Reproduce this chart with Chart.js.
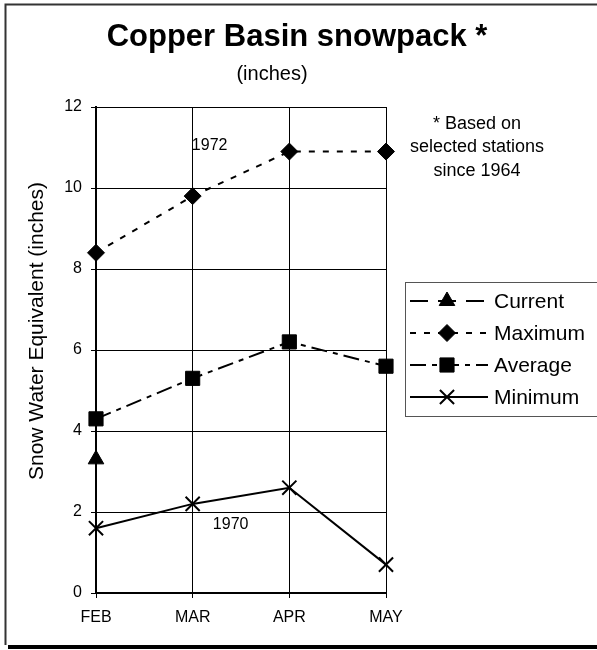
<!DOCTYPE html>
<html>
<head>
<meta charset="utf-8">
<title>Copper Basin snowpack</title>
<script src="https://cdn.jsdelivr.net/npm/chart.js@4/dist/chart.umd.min.js"></script>
<style>
  html, body { margin: 0; padding: 0; background: #fff; }
  #wrap { width: 597px; height: 650px; }
</style>
</head>
<body>
<div id="wrap"><canvas id="snow-chart"></canvas></div>
<script>
// Chart data
const months = ['FEB', 'MAR', 'APR', 'MAY'];
const currentVals = [3.3, null, null, null];
const maximumVals = [8.4, 9.8, 10.9, 10.9];
const averageVals = [4.3, 5.3, 6.2, 5.6];
const minimumVals = [1.6, 2.2, 2.6, 0.7];
const yMin = 0;
const yMax = 12;
const yStep = 2;

// Text
const titleText = 'Copper Basin snowpack *';
const subtitleText = '(inches)';
const yAxisText = 'Snow Water Equivalent (inches)';
const noteLines = ['* Based on', 'selected stations', 'since 1964'];
const maxYearText = '1972';
const minYearText = '1970';

const FONT = '"Liberation Sans", Arial, sans-serif';

// Frame, titles, notes
const textPlugin = {
  id: 'textPlugin',
  beforeDraw(chart) {
    const ctx = chart.ctx;
    ctx.save();
    ctx.fillStyle = '#fff';
    ctx.fillRect(0, 0, chart.width, chart.height);
    // frame with shadow
    ctx.fillStyle = '#000';
    ctx.fillRect(8, 645, chart.width - 8, 4);
    ctx.strokeStyle = '#333';
    ctx.lineWidth = 2;
    ctx.beginPath();
    ctx.moveTo(chart.width, 4.5);
    ctx.lineTo(5.5, 4.5);
    ctx.lineTo(5.5, 645);
    ctx.stroke();
    ctx.restore();
  },
  afterDraw(chart) {
    const ctx = chart.ctx;
    const x = chart.scales.x;
    const y = chart.scales.y;
    ctx.save();
    ctx.fillStyle = '#000';
    ctx.textAlign = 'center';
    ctx.textBaseline = 'middle';

    ctx.font = 'bold 31px ' + FONT;
    ctx.fillText(titleText, 297, 37);
    ctx.font = '20px ' + FONT;
    ctx.fillText(subtitleText, 272, 74);

    // y axis title
    ctx.save();
    ctx.translate(37, 331);
    ctx.rotate(-Math.PI / 2);
    ctx.font = '21px ' + FONT;
    ctx.fillText(yAxisText, 0, 0);
    ctx.restore();

    // note on the right
    ctx.font = '18px ' + FONT;
    noteLines.forEach((line, i) => {
      ctx.fillText(line, 477, 124 + i * 23.5);
    });

    // record years
    ctx.font = '16px ' + FONT;
    ctx.fillText(maxYearText, x.getPixelForValue(1) + 17, y.getPixelForValue(11.05));
    ctx.fillText(minYearText, x.getPixelForValue(1) + 38, y.getPixelForValue(1.68));
    ctx.restore();
  }
};

// Legend box drawn with each dataset's own line and marker style
const legendPlugin = {
  id: 'legendPlugin',
  afterDraw(chart) {
    const ctx = chart.ctx;
    ctx.save();
    ctx.strokeStyle = '#555';
    ctx.lineWidth = 1;
    ctx.strokeRect(405.5, 282.5, 200, 134);

    chart.data.datasets.forEach((ds, i) => {
      const yPos = 301 + i * 32;
      ctx.strokeStyle = '#000';
      ctx.lineWidth = ds.borderWidth;
      ctx.setLineDash(ds.borderDash || []);
      ctx.beginPath();
      ctx.moveTo(410, yPos);
      ctx.lineTo(488, yPos);
      ctx.stroke();
      ctx.setLineDash([]);

      ctx.fillStyle = '#000';
      ctx.lineWidth = ds.pointBorderWidth;
      Chart.helpers.drawPoint(ctx, {
        pointStyle: ds.pointStyle,
        radius: ds.pointRadius,
        rotation: 0,
        borderWidth: ds.pointBorderWidth
      }, 447, yPos);

      ctx.font = '21px ' + FONT;
      ctx.textAlign = 'left';
      ctx.textBaseline = 'middle';
      ctx.fillText(ds.label, 494, yPos + 1);
    });
    ctx.restore();
  }
};

function makeSeries(label, data, dash, style, radius, pointBorder) {
  return {
    label: label,
    data: data,
    borderColor: '#000',
    backgroundColor: '#000',
    borderWidth: 2,
    borderDash: dash,
    pointStyle: style,
    pointRadius: radius,
    pointHoverRadius: radius,
    pointBorderWidth: pointBorder,
    pointBackgroundColor: '#000',
    pointBorderColor: '#000',
    tension: 0,
    clip: false
  };
}

const ctx = document.getElementById('snow-chart').getContext('2d');

const snowChart = new Chart(ctx, {
  type: 'line',
  data: {
    labels: months,
    datasets: [
      makeSeries('Current', currentVals, [18, 10], 'triangle', 9, 1),
      makeSeries('Maximum', maximumVals, [6, 8], 'rectRot', 8.5, 1),
      makeSeries('Average', averageVals, [16, 6, 5, 6], 'rect', 10, 1),
      makeSeries('Minimum', minimumVals, [], 'crossRot', 10, 2)
    ]
  },
  options: {
    responsive: true,
    maintainAspectRatio: false,
    animation: false,
    events: [],
    layout: {
      padding: { left: 0, top: 107, right: 211, bottom: 0 }
    },
    scales: {
      x: {
        offset: false,
        afterFit: (scale) => { scale.height = 57; },
        grid: {
          color: '#000',
          lineWidth: 1,
          tickLength: 5,
          tickColor: '#000'
        },
        border: { color: '#000', width: 2 },
        ticks: {
          color: '#000',
          padding: 10,
          font: { family: FONT, size: 16 }
        }
      },
      y: {
        min: yMin,
        max: yMax,
        afterFit: (scale) => { scale.width = 96; },
        grid: {
          color: '#000',
          lineWidth: 1,
          tickLength: 5,
          tickColor: '#000'
        },
        border: { color: '#000', width: 2 },
        ticks: {
          stepSize: yStep,
          color: '#000',
          padding: 9,
          font: { family: FONT, size: 16 }
        }
      }
    },
    plugins: {
      legend: { display: false },
      title: { display: false },
      tooltip: { enabled: false }
    }
  },
  plugins: [textPlugin, legendPlugin]
});
</script>
</body>
</html>
